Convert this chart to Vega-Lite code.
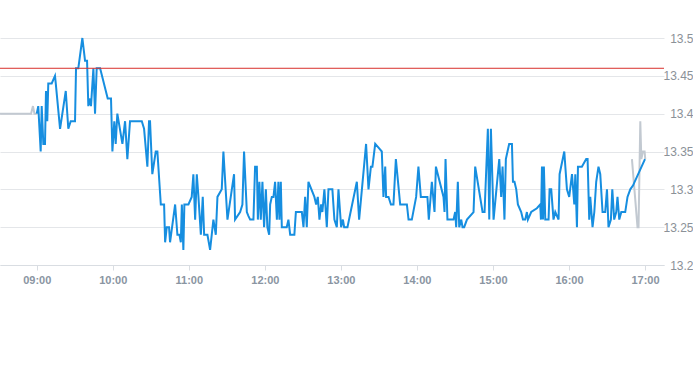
{
  "$schema": "https://vega.github.io/schema/vega-lite/v6.json",
  "autosize": {"type": "none"},
  "padding": {"left": 0, "top": 38, "right": 29, "bottom": 100},
  "width": 664,
  "height": 227,
  "background": "white",
  "config": {"view": {"stroke": null}, "font": "Liberation Sans"},
  "data": {"values": [
    {"t":511,"p":13.40,"s":"pre"},{"t":535.5,"p":13.40,"s":"pre"},{"t":537,"p":13.41,"s":"pre"},{"t":538.2,"p":13.40,"s":"pre"},{"t":540,"p":13.40,"s":"pre"},
    {"t":1009.7,"p":13.34,"s":"post"},{"t":1014.1,"p":13.25,"s":"post"},{"t":1014.9,"p":13.25,"s":"post"},{"t":1016.3,"p":13.39,"s":"post"},{"t":1017.1,"p":13.34,"s":"post"},{"t":1018.4,"p":13.35,"s":"post"},{"t":1019.7,"p":13.35,"s":"post"},{"t":1020.2,"p":13.34,"s":"post"},
    {"t":540,"p":13.40,"s":"main"},{"t":541.2,"p":13.41,"s":"main"},{"t":543.1,"p":13.35,"s":"main"},{"t":543.9,"p":13.41,"s":"main"},{"t":545.2,"p":13.36,"s":"main"},{"t":546.5,"p":13.36,"s":"main"},{"t":547.3,"p":13.43,"s":"main"},{"t":548.3,"p":13.39,"s":"main"},{"t":549.1,"p":13.44,"s":"main"},{"t":551.8,"p":13.44,"s":"main"},{"t":554.4,"p":13.45,"s":"main"},{"t":555,"p":13.44,"s":"main"},{"t":558.4,"p":13.38,"s":"main"},{"t":562.9,"p":13.43,"s":"main"},{"t":564.9,"p":13.38,"s":"main"},{"t":566.8,"p":13.39,"s":"main"},{"t":570.2,"p":13.39,"s":"main"},{"t":571,"p":13.46,"s":"main"},{"t":572.8,"p":13.46,"s":"main"},{"t":576,"p":13.50,"s":"main"},{"t":578.1,"p":13.47,"s":"main"},{"t":579.7,"p":13.47,"s":"main"},{"t":580.7,"p":13.41,"s":"main"},{"t":582.1,"p":13.42,"s":"main"},{"t":582.8,"p":13.41,"s":"main"},{"t":584.7,"p":13.46,"s":"main"},{"t":586,"p":13.40,"s":"main"},{"t":587.3,"p":13.46,"s":"main"},{"t":590,"p":13.46,"s":"main"},{"t":596,"p":13.42,"s":"main"},{"t":598.6,"p":13.42,"s":"main"},{"t":599.7,"p":13.35,"s":"main"},{"t":601.2,"p":13.39,"s":"main"},{"t":602.3,"p":13.36,"s":"main"},{"t":603.6,"p":13.40,"s":"main"},{"t":607.6,"p":13.36,"s":"main"},{"t":609.7,"p":13.39,"s":"main"},{"t":611.5,"p":13.34,"s":"main"},{"t":613.6,"p":13.39,"s":"main"},{"t":622.9,"p":13.39,"s":"main"},{"t":624.7,"p":13.38,"s":"main"},{"t":627.3,"p":13.33,"s":"main"},{"t":628.6,"p":13.39,"s":"main"},{"t":629.4,"p":13.39,"s":"main"},{"t":631.2,"p":13.32,"s":"main"},{"t":633.9,"p":13.35,"s":"main"},{"t":635.2,"p":13.35,"s":"main"},{"t":637.9,"p":13.28,"s":"main"},{"t":640.5,"p":13.28,"s":"main"},{"t":641.3,"p":13.23,"s":"main"},{"t":642.6,"p":13.25,"s":"main"},{"t":644.4,"p":13.25,"s":"main"},{"t":645.2,"p":13.23,"s":"main"},{"t":649.2,"p":13.28,"s":"main"},{"t":651,"p":13.24,"s":"main"},{"t":652.6,"p":13.24,"s":"main"},{"t":653.7,"p":13.23,"s":"main"},{"t":654.5,"p":13.28,"s":"main"},{"t":655.7,"p":13.22,"s":"main"},{"t":656.5,"p":13.28,"s":"main"},{"t":659.7,"p":13.28,"s":"main"},{"t":662.3,"p":13.29,"s":"main"},{"t":663.6,"p":13.32,"s":"main"},{"t":665,"p":13.26,"s":"main"},{"t":666.3,"p":13.32,"s":"main"},{"t":667.6,"p":13.29,"s":"main"},{"t":669.5,"p":13.24,"s":"main"},{"t":671,"p":13.29,"s":"main"},{"t":672.1,"p":13.24,"s":"main"},{"t":674.7,"p":13.24,"s":"main"},{"t":676.8,"p":13.22,"s":"main"},{"t":679.4,"p":13.26,"s":"main"},{"t":681.3,"p":13.24,"s":"main"},{"t":682.6,"p":13.29,"s":"main"},{"t":686,"p":13.30,"s":"main"},{"t":687.3,"p":13.35,"s":"main"},{"t":690.5,"p":13.26,"s":"main"},{"t":695.7,"p":13.32,"s":"main"},{"t":696.5,"p":13.26,"s":"main"},{"t":700.5,"p":13.27,"s":"main"},{"t":702.3,"p":13.28,"s":"main"},{"t":703.6,"p":13.35,"s":"main"},{"t":705.8,"p":13.27,"s":"main"},{"t":707,"p":13.265,"s":"main"},{"t":708.4,"p":13.26,"s":"main"},{"t":711,"p":13.26,"s":"main"},{"t":712.3,"p":13.33,"s":"main"},{"t":713.7,"p":13.33,"s":"main"},{"t":714.5,"p":13.26,"s":"main"},{"t":715.7,"p":13.31,"s":"main"},{"t":716.8,"p":13.26,"s":"main"},{"t":718.1,"p":13.31,"s":"main"},{"t":719.4,"p":13.25,"s":"main"},{"t":720.8,"p":13.30,"s":"main"},{"t":722,"p":13.25,"s":"main"},{"t":723.4,"p":13.24,"s":"main"},{"t":724.2,"p":13.28,"s":"main"},{"t":725.5,"p":13.29,"s":"main"},{"t":726.8,"p":13.29,"s":"main"},{"t":728.1,"p":13.31,"s":"main"},{"t":729.5,"p":13.26,"s":"main"},{"t":730.7,"p":13.31,"s":"main"},{"t":731.5,"p":13.26,"s":"main"},{"t":732.6,"p":13.31,"s":"main"},{"t":733.4,"p":13.25,"s":"main"},{"t":737.3,"p":13.25,"s":"main"},{"t":738.6,"p":13.26,"s":"main"},{"t":740,"p":13.24,"s":"main"},{"t":743.3,"p":13.24,"s":"main"},{"t":744.5,"p":13.27,"s":"main"},{"t":749.2,"p":13.27,"s":"main"},{"t":750.5,"p":13.25,"s":"main"},{"t":751.8,"p":13.29,"s":"main"},{"t":753.1,"p":13.25,"s":"main"},{"t":754.4,"p":13.31,"s":"main"},{"t":759.1,"p":13.29,"s":"main"},{"t":760.5,"p":13.28,"s":"main"},{"t":761.8,"p":13.29,"s":"main"},{"t":763.1,"p":13.26,"s":"main"},{"t":764.4,"p":13.28,"s":"main"},{"t":765.4,"p":13.27,"s":"main"},{"t":767,"p":13.30,"s":"main"},{"t":768.9,"p":13.25,"s":"main"},{"t":770.2,"p":13.30,"s":"main"},{"t":773.3,"p":13.30,"s":"main"},{"t":774.9,"p":13.26,"s":"main"},{"t":776.8,"p":13.25,"s":"main"},{"t":778.1,"p":13.30,"s":"main"},{"t":780.2,"p":13.25,"s":"main"},{"t":781.6,"p":13.26,"s":"main"},{"t":782.6,"p":13.25,"s":"main"},{"t":785.2,"p":13.25,"s":"main"},{"t":792.6,"p":13.31,"s":"main"},{"t":794.4,"p":13.26,"s":"main"},{"t":799.9,"p":13.36,"s":"main"},{"t":801.8,"p":13.30,"s":"main"},{"t":803.7,"p":13.33,"s":"main"},{"t":804.9,"p":13.33,"s":"main"},{"t":807.1,"p":13.36,"s":"main"},{"t":809.7,"p":13.355,"s":"main"},{"t":812.3,"p":13.35,"s":"main"},{"t":813.6,"p":13.29,"s":"main"},{"t":815,"p":13.33,"s":"main"},{"t":815.7,"p":13.29,"s":"main"},{"t":817.6,"p":13.29,"s":"main"},{"t":819.5,"p":13.28,"s":"main"},{"t":821.5,"p":13.28,"s":"main"},{"t":823.4,"p":13.34,"s":"main"},{"t":826.8,"p":13.28,"s":"main"},{"t":832.1,"p":13.28,"s":"main"},{"t":833.4,"p":13.26,"s":"main"},{"t":836,"p":13.26,"s":"main"},{"t":839.4,"p":13.29,"s":"main"},{"t":841.2,"p":13.33,"s":"main"},{"t":843.1,"p":13.29,"s":"main"},{"t":848.3,"p":13.29,"s":"main"},{"t":849.4,"p":13.26,"s":"main"},{"t":851.8,"p":13.31,"s":"main"},{"t":853.9,"p":13.27,"s":"main"},{"t":855,"p":13.33,"s":"main"},{"t":861,"p":13.29,"s":"main"},{"t":861.8,"p":13.27,"s":"main"},{"t":862.6,"p":13.34,"s":"main"},{"t":864.1,"p":13.26,"s":"main"},{"t":868.9,"p":13.26,"s":"main"},{"t":870.2,"p":13.27,"s":"main"},{"t":871,"p":13.25,"s":"main"},{"t":872.3,"p":13.31,"s":"main"},{"t":873.4,"p":13.25,"s":"main"},{"t":875,"p":13.26,"s":"main"},{"t":876,"p":13.25,"s":"main"},{"t":877.3,"p":13.25,"s":"main"},{"t":879.5,"p":13.26,"s":"main"},{"t":884.7,"p":13.27,"s":"main"},{"t":886,"p":13.33,"s":"main"},{"t":891.8,"p":13.27,"s":"main"},{"t":893.4,"p":13.27,"s":"main"},{"t":896,"p":13.38,"s":"main"},{"t":897.1,"p":13.26,"s":"main"},{"t":898.4,"p":13.38,"s":"main"},{"t":900.5,"p":13.26,"s":"main"},{"t":905,"p":13.34,"s":"main"},{"t":906.5,"p":13.29,"s":"main"},{"t":907.6,"p":13.33,"s":"main"},{"t":909.1,"p":13.26,"s":"main"},{"t":910.2,"p":13.34,"s":"main"},{"t":912.8,"p":13.36,"s":"main"},{"t":915,"p":13.36,"s":"main"},{"t":915.8,"p":13.31,"s":"main"},{"t":917,"p":13.31,"s":"main"},{"t":918.4,"p":13.30,"s":"main"},{"t":919.7,"p":13.28,"s":"main"},{"t":922.3,"p":13.27,"s":"main"},{"t":923.7,"p":13.26,"s":"main"},{"t":925.5,"p":13.26,"s":"main"},{"t":926.8,"p":13.27,"s":"main"},{"t":927.6,"p":13.26,"s":"main"},{"t":930.2,"p":13.27,"s":"main"},{"t":934.7,"p":13.275,"s":"main"},{"t":937.3,"p":13.28,"s":"main"},{"t":937.9,"p":13.26,"s":"main"},{"t":938.7,"p":13.33,"s":"main"},{"t":939.5,"p":13.26,"s":"main"},{"t":940.2,"p":13.33,"s":"main"},{"t":941.3,"p":13.26,"s":"main"},{"t":943.9,"p":13.26,"s":"main"},{"t":944.7,"p":13.30,"s":"main"},{"t":946,"p":13.30,"s":"main"},{"t":947.8,"p":13.26,"s":"main"},{"t":949.2,"p":13.27,"s":"main"},{"t":951.8,"p":13.26,"s":"main"},{"t":952.6,"p":13.32,"s":"main"},{"t":956.3,"p":13.35,"s":"main"},{"t":958.4,"p":13.30,"s":"main"},{"t":960.2,"p":13.29,"s":"main"},{"t":962.4,"p":13.32,"s":"main"},{"t":964.2,"p":13.28,"s":"main"},{"t":965,"p":13.32,"s":"main"},{"t":966.3,"p":13.25,"s":"main"},{"t":967.1,"p":13.33,"s":"main"},{"t":970.2,"p":13.33,"s":"main"},{"t":973.6,"p":13.34,"s":"main"},{"t":974.7,"p":13.34,"s":"main"},{"t":976,"p":13.26,"s":"main"},{"t":976.8,"p":13.29,"s":"main"},{"t":978.6,"p":13.25,"s":"main"},{"t":980,"p":13.27,"s":"main"},{"t":981.5,"p":13.31,"s":"main"},{"t":983.3,"p":13.33,"s":"main"},{"t":984.7,"p":13.32,"s":"main"},{"t":986.5,"p":13.27,"s":"main"},{"t":988.6,"p":13.27,"s":"main"},{"t":990,"p":13.30,"s":"main"},{"t":991.2,"p":13.25,"s":"main"},{"t":993.1,"p":13.26,"s":"main"},{"t":994.2,"p":13.30,"s":"main"},{"t":995.7,"p":13.26,"s":"main"},{"t":997.3,"p":13.27,"s":"main"},{"t":998.3,"p":13.29,"s":"main"},{"t":999.7,"p":13.26,"s":"main"},{"t":1001.3,"p":13.27,"s":"main"},{"t":1004.4,"p":13.27,"s":"main"},{"t":1006.2,"p":13.29,"s":"main"},{"t":1008.4,"p":13.30,"s":"main"},{"t":1010.5,"p":13.305,"s":"main"},{"t":1020,"p":13.34,"s":"main"},
    {"p":13.46,"s":"ref"}
  ]},
  "encoding": {
    "x": {"field": "t", "type": "quantitative", "scale": {"domain": [511, 1035], "nice": false, "zero": false},
      "axis": {"values": [540, 600, 660, 720, 780, 840, 900, 960, 1020],
        "labelExpr": "timeFormat(datetime(2024,0,1,0,datum.value),'%H:%M')",
        "grid": false, "title": null, "domainColor": "#d9dde2", "tickColor": "#d9dde2", "tickSize": 5,
        "labelColor": "#8a95a2", "labelFontSize": 11, "labelFontWeight": "bold", "labelPadding": 4}},
    "y": {"field": "p", "type": "quantitative", "scale": {"domain": [13.2, 13.5], "nice": false, "zero": false},
      "axis": {"orient": "right", "values": [13.2, 13.25, 13.3, 13.35, 13.4, 13.45, 13.5], "format": "~f",
        "labelOverlap": false, "title": null, "domain": false, "ticks": false, "gridColor": "#e4e6e9",
        "labelColor": "#8b9198", "labelFontSize": 12, "labelAlign": "right", "labelPadding": 29}}
  },
  "layer": [
    {
      "transform": [{"filter": "datum.s == 'pre' || datum.s == 'post'"}],
      "mark": {"type": "line", "color": "#c2c9d1", "strokeWidth": 2, "interpolate": "linear"},
      "encoding": {"detail": {"field": "s"}}
    },
    {
      "transform": [{"filter": "datum.s == 'main'"}],
      "mark": {"type": "line", "color": "#168ee0", "strokeWidth": 2, "interpolate": "linear"},
      "encoding": {}
    },
    {
      "transform": [{"filter": "datum.s == 'ref'"}],
      "mark": {"type": "rule", "color": "#d9302c", "strokeWidth": 1},
      "encoding": {"x": {"value": 0}, "x2": {"value": 664}}
    }
  ]
}
